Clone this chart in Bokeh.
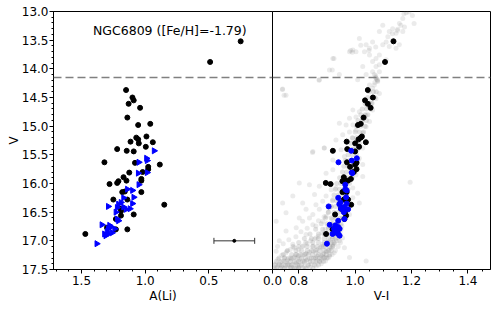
import numpy as np
from bokeh.plotting import figure
from bokeh.models import (Range1d, SingleIntervalTicker, FixedTicker, NumeralTickFormatter,
                          Span, Label, Whisker, ColumnDataSource, TeeHead)
from bokeh.layouts import row
from bokeh.embed import file_html
from bokeh.resources import INLINE

# ---------------- data ----------------
# black stars: V, A(Li), V-I
black_v = [13.52, 13.88, 14.37, 14.50, 14.55, 14.61, 14.68, 14.85, 14.96, 14.98,
           15.18, 15.20, 15.23, 15.27, 15.28, 15.30, 15.36, 15.40, 15.43, 15.44,
           15.63, 15.64, 15.67, 15.71, 15.75, 15.80, 15.81, 15.89, 15.95, 15.92,
           15.95, 15.96, 15.99, 16.01, 16.14, 16.15, 16.15, 16.28, 16.28, 16.37,
           16.44, 16.48, 16.54, 16.56, 16.62, 16.77, 16.80, 16.80, 16.88]
black_ali = [0.25, 0.49, 1.15, 1.10, 1.09, 1.13, 1.04, 1.14, 0.96, 1.055,
             0.99, 1.07, 1.055, 1.115, 0.94, 1.05, 0.995, 1.22, 1.145, 1.09,
             1.32, 1.08, 0.885, 0.976, 0.976, 1.02, 1.125, 1.17, 1.147, 1.03,
             1.03, 1.21, 1.22, 1.28, 1.16, 1.18, 1.03, 1.25, 1.14, 0.85,
             1.19, 1.19, 1.09, 1.19, 1.23, 1.30, 1.14, 1.23, 1.47]
black_vi = [1.136, 1.106, 1.045, 1.063, 1.035, 1.045, 1.055, 1.03, 1.02, 1.01,
            1.024, 1.02, 1.012, 0.97, 1.038, 1.0, 1.014, 0.972, 0.921, 1.0,
            0.971, 1.005, 1.0, 0.982, 1.005, 0.995, 0.99, 0.96, 0.975, 0.985,
            0.965, 0.955, 0.896, 0.913, 0.96, 0.955, 0.97, 0.96, 0.975, 0.986,
            0.95, 0.965, 0.929, 0.968, 0.962, 0.935, 0.92, 0.94, 0.897]

# blue stars: V, A(Li), V-I
blue_v = [15.43, 15.56, 15.60, 15.63, 15.81, 15.82, 16.02, 16.10, 16.12, 16.25,
          16.24, 16.33, 16.35, 16.40, 16.36, 16.42, 16.41, 16.45, 16.44, 16.50,
          16.62, 16.65, 16.72, 16.73, 16.76, 16.79, 16.79, 16.84, 16.86, 16.88,
          16.88, 16.91, 17.05]
blue_ali = [0.93, 0.99, 0.985, 1.05, 0.985, 1.055, 1.05, 1.14, 1.10, 1.17,
            1.09, 1.19, 1.10, 1.29, 1.21, 1.22, 1.17, 1.15, 1.12, 1.23,
            1.22, 1.21, 1.34, 1.28, 1.27, 1.29, 1.24, 1.30, 1.26, 1.32,
            1.29, 1.31, 1.38]
blue_vi = [0.986, 1.006, 0.988, 0.941, 0.988, 0.99, 0.965, 0.965, 0.97, 0.94,
           0.968, 0.948, 0.97, 0.906, 0.944, 0.957, 0.962, 0.975, 0.95, 0.96,
           0.962, 0.94, 0.91, 0.93, 0.94, 0.925, 0.945, 0.93, 0.935, 0.92,
           0.94, 0.945, 0.90]

# cluster photometry (grey), scattered stars: V-I, V
gray_vi = [1.181, 1.169, 1.157, 1.175, 1.151, 1.133, 1.145, 1.169, 1.121, 1.116, 1.133, 1.110, 1.098, 1.121, 1.145, 1.157,
           1.098, 1.086, 1.062, 1.051, 1.039, 1.015, 1.003, 0.980, 0.992, 1.033, 1.051, 1.086, 1.074, 1.110, 1.062, 1.086,
           1.074, 1.062, 1.086, 1.068, 1.074, 1.080, 1.068, 1.051, 1.027, 0.921, 0.909, 0.873, 0.944, 1.009, 1.039,
           1.173, 1.191, 1.203, 1.209, 1.162, 1.150, 1.132, 0.984, 0.990, 1.073, 1.049, 1.020, 0.925, 0.919, 0.872,
           1.073, 1.076, 1.079, 1.070, 1.073, 1.080,
           0.743, 0.755, 1.062, 1.086, 1.074, 1.057, 1.039, 1.062, 1.015, 0.992, 1.039, 1.027, 1.003, 0.980, 1.015, 1.051,
           0.992, 0.968, 0.944, 1.039, 1.003, 0.980, 1.027, 0.956, 0.992, 1.009, 0.974, 0.932, 0.891, 0.950, 0.992, 1.027,
           0.850, 0.962, 1.015, 0.921, 0.849, 0.890, 0.742, 0.748,
           1.027, 0.921, 0.897, 1.003, 1.027, 0.802, 0.838, 0.873, 0.915, 0.932, 0.992, 1.009, 0.779, 0.856, 0.897, 0.921,
           0.992, 0.814, 0.861, 0.885, 0.743, 1.015, 0.826, 0.873, 0.909, 0.755, 0.850, 0.897, 0.980, 0.802, 1.195,
           0.720, 0.755, 0.791, 0.814, 0.838, 0.861, 0.885, 0.826, 0.861, 0.897, 0.731, 0.779, 0.814, 0.850, 0.885, 0.921,
           0.944, 0.962, 0.720, 0.755, 0.791, 0.826, 0.861, 0.897, 0.926, 0.726, 0.749, 0.773, 0.802, 0.832, 0.861, 0.885,
           0.909, 0.731, 0.761, 0.791, 0.820, 0.850, 0.873, 0.743, 0.773, 0.802, 0.832, 0.714, 1.039, 0.980,
           0.712, 0.725, 0.738, 0.752, 0.765, 0.778, 0.790, 0.805, 0.815, 0.828, 0.840, 0.853, 0.866, 0.878, 0.889, 0.899,
           0.908, 0.915, 0.922, 0.928, 0.933, 0.938, 0.942, 0.946, 0.950, 0.953,
           0.718, 0.735, 0.748, 0.760, 0.772, 0.786, 0.798, 0.811, 0.824, 0.838, 0.851, 0.864, 0.876, 0.887, 0.897, 0.905,
           0.913, 0.920, 0.926, 0.931, 0.936, 0.940,
           0.740, 0.758, 0.770, 0.785, 0.800, 0.815, 0.830, 0.842, 0.856, 0.870, 0.882, 0.894, 0.905, 0.915, 0.920, 0.928,
           0.790, 0.815, 0.840, 0.862, 0.880, 0.895, 0.905, 0.918, 0.930, 0.940, 0.948, 0.955,
           0.725, 0.745, 0.765, 0.790, 0.808, 0.830, 0.850, 0.870, 0.890, 0.905, 0.915,
           0.760, 0.780, 0.800, 0.820, 0.845, 0.865, 0.880, 0.893]
gray_v = [13.02, 13.12, 13.21, 13.27, 13.31, 13.30, 13.38, 13.35, 13.35, 13.44, 13.50, 13.53, 13.58, 13.61, 13.64, 13.58,
          13.24, 13.35, 13.53, 13.64, 13.58, 13.47, 13.70, 13.70, 13.67, 13.70, 13.76, 13.76, 13.82, 13.84, 13.87, 13.93,
          13.96, 14.05, 14.05, 14.10, 14.16, 14.22, 14.28, 14.28, 13.96, 13.82, 14.02, 14.19, 14.10, 14.19, 14.10,
          13.04, 13.01, 13.07, 13.21, 13.24, 13.33, 13.39, 13.68, 13.71, 13.62, 13.68, 13.59, 13.82, 14.02, 14.20,
          14.15, 14.18, 14.21, 14.24, 14.12, 14.19,
          14.35, 14.46, 14.34, 14.43, 14.52, 14.60, 14.63, 14.72, 14.75, 14.72, 14.81, 14.86, 14.84, 14.86, 14.95, 14.92,
          14.98, 14.98, 14.95, 15.01, 15.07, 15.10, 15.12, 15.15, 15.21, 15.27, 15.27, 15.24, 15.38, 15.41, 15.41, 15.38,
          15.44, 15.53, 15.56, 15.59, 15.46, 15.38, 14.36, 14.46,
          15.67, 15.76, 15.82, 15.85, 15.88, 15.99, 16.02, 16.05, 16.11, 16.08, 16.08, 16.17, 16.22, 16.19, 16.22, 16.28,
          16.25, 16.34, 16.37, 16.31, 16.34, 16.34, 16.45, 16.45, 16.43, 16.51, 16.54, 16.57, 16.54, 16.60, 15.98,
          16.66, 16.83, 16.77, 16.66, 16.60, 16.74, 16.66, 16.89, 16.95, 16.89, 17.00, 17.06, 17.09, 17.09, 17.06, 17.06,
          17.00, 17.12, 17.18, 17.21, 17.24, 17.22, 17.21, 17.18, 17.21, 17.32, 17.29, 17.32, 17.32, 17.32, 17.29, 17.28,
          17.27, 17.41, 17.40, 17.40, 17.38, 17.36, 17.35, 17.47, 17.46, 17.44, 17.43, 17.47, 17.35, 17.29,
          17.49, 17.45, 17.44, 17.43, 17.42, 17.41, 17.38, 17.37, 17.35, 17.34, 17.31, 17.30, 17.27, 17.25, 17.22, 17.19,
          17.16, 17.12, 17.09, 17.04, 17.00, 16.95, 16.90, 16.85, 16.80, 16.74,
          17.40, 17.37, 17.35, 17.33, 17.30, 17.28, 17.26, 17.25, 17.23, 17.20, 17.18, 17.15, 17.12, 17.10, 17.06, 17.02,
          16.98, 16.93, 16.88, 16.83, 16.77, 16.71,
          17.25, 17.18, 17.15, 17.12, 17.15, 17.10, 17.05, 17.00, 16.97, 16.92, 16.86, 16.80, 16.75, 16.70, 16.62, 16.55,
          17.48, 17.47, 17.46, 17.44, 17.40, 17.35, 17.30, 17.24, 17.17, 17.10, 17.03, 16.95,
          17.10, 17.05, 16.98, 16.93, 16.84, 16.78, 16.72, 16.65, 16.58, 16.50, 16.40,
          17.48, 17.47, 17.46, 17.45, 17.40, 17.35, 17.32, 17.28]

# cluster photometry (grey), crowded sequence read row by row: V -> list of V-I
seq_rows = [
    (17.48, [0.720, 0.735, 0.750, 0.770, 0.785, 0.800, 0.825, 0.850]),
    (17.42, [0.715, 0.730, 0.745, 0.760, 0.775, 0.795, 0.810, 0.835, 0.855, 0.870]),
    (17.36, [0.720, 0.740, 0.755, 0.770, 0.785, 0.800, 0.820, 0.840, 0.860, 0.875, 0.888]),
    (17.30, [0.730, 0.750, 0.765, 0.780, 0.795, 0.810, 0.825, 0.845, 0.860, 0.875, 0.890, 0.900]),
    (17.24, [0.745, 0.775, 0.790, 0.805, 0.820, 0.835, 0.850, 0.870, 0.885, 0.898, 0.910]),
    (17.17, [0.760, 0.790, 0.810, 0.830, 0.845, 0.860, 0.875, 0.890, 0.905, 0.915]),
    (17.10, [0.780, 0.800, 0.830, 0.850, 0.865, 0.880, 0.895, 0.910, 0.920]),
    (17.03, [0.800, 0.825, 0.850, 0.870, 0.890, 0.900, 0.915, 0.925]),
    (16.96, [0.820, 0.845, 0.870, 0.890, 0.905, 0.920, 0.930]),
    (16.88, [0.840, 0.870, 0.890, 0.910, 0.925, 0.935]),
    (16.80, [0.860, 0.885, 0.905, 0.920, 0.935]),
    (16.70, [0.880, 0.900, 0.920, 0.935, 0.950]),
    (16.60, [0.895, 0.915, 0.930, 0.945, 0.955]),
    (16.50, [0.905, 0.925, 0.940, 0.955]),
    (16.40, [0.915, 0.930, 0.945, 0.960]),
    (16.30, [0.920, 0.935, 0.950, 0.965]),
    (16.20, [0.925, 0.940, 0.955, 0.970]),
    (16.10, [0.930, 0.945, 0.960, 0.975]),
    (16.00, [0.935, 0.950, 0.965, 0.980]),
    (15.90, [0.945, 0.960, 0.975, 0.990]),
    (15.80, [0.955, 0.970, 0.985, 1.000]),
    (15.70, [0.960, 0.975, 0.990, 1.005]),
    (15.60, [0.965, 0.980, 0.995, 1.010]),
    (15.50, [0.975, 0.990, 1.005]),
    (15.40, [0.980, 0.995, 1.010]),
    (15.30, [0.985, 1.000, 1.015]),
    (15.20, [0.990, 1.005, 1.020]),
    (15.10, [1.000, 1.015, 1.030]),
    (15.00, [1.005, 1.020, 1.035]),
    (14.90, [1.010, 1.025, 1.040]),
    (14.80, [1.020, 1.035, 1.045]),
    (14.70, [1.025, 1.040, 1.055]),
    (14.60, [1.035, 1.050, 1.060]),
    (14.50, [1.045, 1.060, 1.070]),
    (14.40, [1.050, 1.065, 1.075]),
]

# typical error bar on A(Li)
err_v = [17.0]
err_ali = [0.30]
err_lo = [0.14]
err_hi = [0.46]

rgb_bump_v = 14.15
title_text = "NGC6809 ([Fe/H]=-1.79)"
yticks_major = 0.5
ali_ticks = [0.0, 0.5, 1.0, 1.5]
vi_ticks = [0.8, 1.0, 1.2, 1.4]

FONT = "DejaVu Sans"

seq_vi = [c for _, cs in seq_rows for c in cs]
seq_v = [m for m, cs in seq_rows for _ in cs]

y_range = Range1d(17.5, 13.0)


def style(p):
    p.grid.visible = False
    p.outline_line_color = "black"
    p.outline_line_width = 1
    for ax in p.axis:
        ax.axis_line_color = "black"
        ax.major_tick_line_color = "black"
        ax.minor_tick_line_color = "black"
        ax.major_tick_out = 4
        ax.major_tick_in = 0
        ax.minor_tick_out = 2
        ax.minor_tick_in = 0
        ax.major_label_text_font = FONT
        ax.major_label_text_font_size = "12px"
        ax.major_label_text_color = "black"
        ax.major_label_standoff = 2
        ax.axis_label_text_font = FONT
        ax.axis_label_text_font_size = "12px"
        ax.axis_label_text_font_style = "normal"
        ax.axis_label_text_color = "black"


# ---------------- left panel ----------------
pl = figure(width=286, height=305, x_range=Range1d(1.72, 0.0), y_range=y_range,
            output_backend="svg", toolbar_location=None,
            min_border_left=53, min_border_right=14, min_border_top=11, min_border_bottom=35)
pl.xaxis.axis_label = "A(Li)"
pl.yaxis.axis_label = "V"
pl.xaxis.ticker = FixedTicker(ticks=ali_ticks, minor_ticks=list(np.round(np.arange(0.0, 1.75, 0.1), 2)))
pl.xaxis.formatter = NumeralTickFormatter(format="0.0")
pl.yaxis.ticker = SingleIntervalTicker(interval=yticks_major, num_minor_ticks=5)
pl.yaxis.formatter = NumeralTickFormatter(format="0.0")
style(pl)
pl.yaxis.axis_label_standoff = -2
pl.yaxis.major_label_standoff = 1
pl.xaxis.axis_label_standoff = 1

pl.add_layout(Span(location=rgb_bump_v, dimension="width", line_color="gray",
                   line_dash="8 4", line_width=1.5))
pl.scatter(black_ali, black_v, size=5, color="black")
pl.scatter(blue_ali, blue_v, marker="triangle", angle=-np.pi / 2, size=6, color="blue")

src_err = ColumnDataSource(dict(base=err_v, lower=err_lo, upper=err_hi))
pl.add_layout(Whisker(source=src_err, base="base", lower="lower", upper="upper",
                      dimension="width", line_color="#333333", line_width=1,
                      lower_head=TeeHead(size=6, line_color="#333333", line_width=1),
                      upper_head=TeeHead(size=6, line_color="#333333", line_width=1)))
pl.scatter(err_ali, err_v, size=3, color="black")

pl.add_layout(Label(x=1.41, y=13.33, text=title_text, text_font=FONT,
                    text_font_size="12.5px", text_baseline="middle", text_align="left",
                    text_color="black"))

# ---------------- right panel ----------------
pr = figure(width=221, height=305, x_range=Range1d(0.707, 1.48), y_range=y_range,
            output_backend="svg", toolbar_location=None, y_axis_location=None,
            min_border_left=0, min_border_right=3, min_border_top=11, min_border_bottom=35,
            margin=(0, 0, 0, -14))
pr.background_fill_color = None
pr.border_fill_color = None
pr.xaxis.axis_label = "V-I"
pr.xaxis.ticker = FixedTicker(ticks=vi_ticks, minor_ticks=list(np.round(np.arange(0.75, 1.5, 0.05), 2)))
pr.xaxis.formatter = NumeralTickFormatter(format="0.0")
style(pr)
pr.xaxis.axis_label_standoff = 1

pr.add_layout(Span(location=rgb_bump_v, dimension="width", line_color="gray",
                   line_dash="8 4", line_width=1.5))
pr.scatter(gray_vi, gray_v, size=5, color="gray", alpha=0.16, line_color=None)
pr.scatter(seq_vi, seq_v, size=5, color="gray", alpha=0.22, line_color=None)
pr.scatter(black_vi, black_v, size=5, color="black")
pr.scatter(blue_vi, blue_v, size=5, color="blue")

layout = row(pl, pr, spacing=0)
open("out.html", "w").write(file_html(layout, INLINE))
